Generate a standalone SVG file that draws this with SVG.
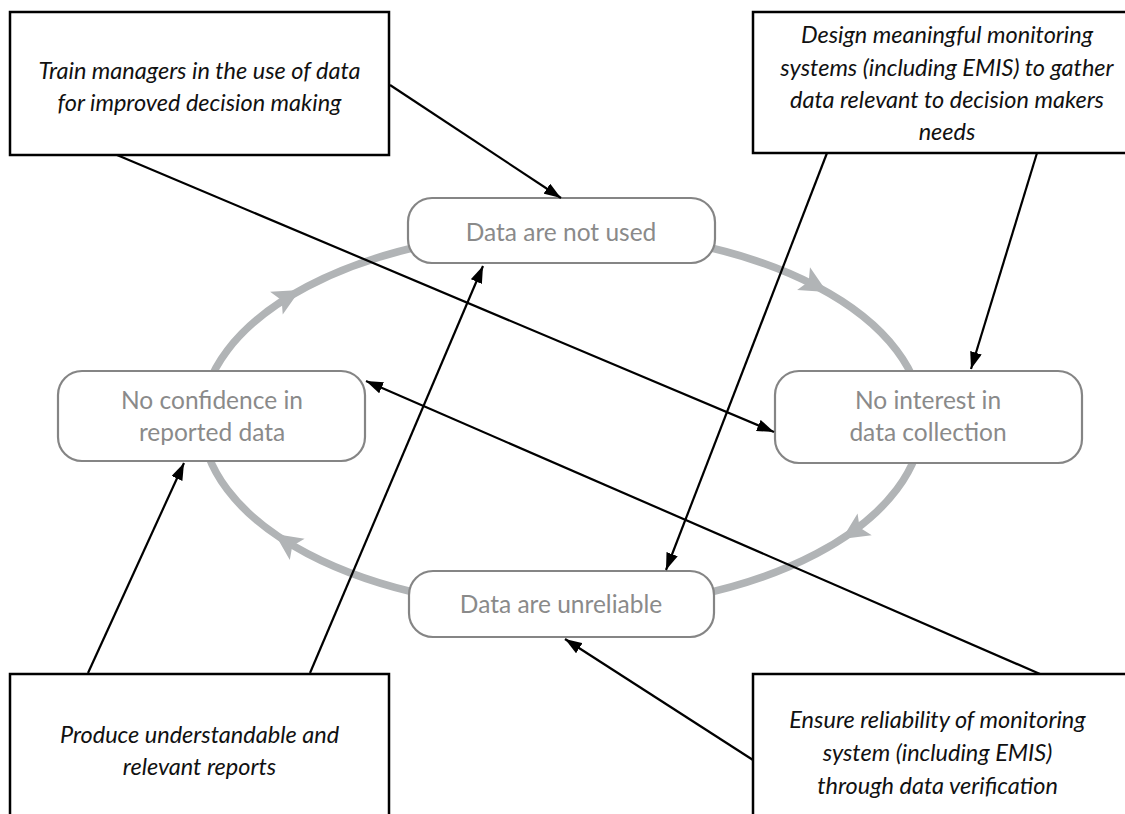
<svg xmlns="http://www.w3.org/2000/svg" width="1125" height="814" viewBox="0 0 1125 814">
<style>
.box{fill:#fff;stroke:#000;stroke-width:2.5}
.node{fill:#fff;stroke:#858585;stroke-width:2.2}
.bt{font-family:Lato,"Liberation Sans",sans-serif;font-style:italic;font-size:23.5px;fill:#111;text-anchor:middle}
.nt{font-family:Lato,"Liberation Sans",sans-serif;font-size:24.5px;fill:#8a8a8a;text-anchor:middle}
.cyc{fill:none;stroke:#b1b4b6;stroke-width:7.5}
.ch{fill:#b1b4b6}
.conn{stroke:#000;stroke-width:2.2;fill:none;marker-end:url(#ah)}
</style>
<defs>
<marker id="ah" markerUnits="userSpaceOnUse" markerWidth="18" markerHeight="12" refX="17" refY="6" orient="auto">
<path d="M0,0 L17,6 L0,12 z" fill="#000"/>
</marker>
</defs>
<rect width="1125" height="814" fill="#fff"/>
<g id="cycle">
<ellipse class="cyc" cx="562" cy="420" rx="360" ry="189"/>
<polygon class="ch" points="0,0 -27,-13 -21,0 -27,13" transform="translate(300,290) rotate(-29.1)"/>
<polygon class="ch" points="0,0 -27,-13 -21,0 -27,13" transform="translate(827,292) rotate(29.7)"/>
<polygon class="ch" points="0,0 -27,-13 -21,0 -27,13" transform="translate(842,539) rotate(147)"/>
<polygon class="ch" points="0,0 -27,-13 -21,0 -27,13" transform="translate(275,534) rotate(214.7)"/>
</g>
<g id="node-not-used">
<rect class="node" x="408" y="198" width="307" height="65" rx="24"/>
<text class="nt" x="561" y="241">Data are not used</text>
</g>
<g id="node-no-confidence">
<rect class="node" x="58" y="371" width="307" height="90" rx="24"/>
<text class="nt" x="212" y="409">No confidence in</text>
<text class="nt" x="212" y="441">reported data</text>
</g>
<g id="node-no-interest">
<rect class="node" x="775" y="371" width="307" height="92" rx="24"/>
<text class="nt" x="928" y="409">No interest in</text>
<text class="nt" x="928" y="441">data collection</text>
</g>
<g id="node-unreliable">
<rect class="node" x="409" y="571" width="305" height="66" rx="24"/>
<text class="nt" x="561" y="613">Data are unreliable</text>
</g>
<g id="box-train">
<rect class="box" x="10" y="12" width="379" height="143"/>
<text class="bt" x="199.5" y="79">Train managers in the use of data</text>
<text class="bt" x="199.5" y="111">for improved decision making</text>
</g>
<g id="box-design">
<rect class="box" x="753" y="12" width="390" height="141"/>
<text class="bt" x="947" y="43">Design meaningful monitoring</text>
<text class="bt" x="947" y="76">systems (including EMIS) to gather</text>
<text class="bt" x="947" y="108">data relevant to decision makers</text>
<text class="bt" x="947" y="140">needs</text>
</g>
<g id="box-produce">
<rect class="box" x="10" y="674" width="379" height="160"/>
<text class="bt" x="199.5" y="743">Produce understandable and</text>
<text class="bt" x="199.5" y="775">relevant reports</text>
</g>
<g id="box-ensure">
<rect class="box" x="753" y="674" width="390" height="160"/>
<text class="bt" x="937.5" y="728">Ensure reliability of monitoring</text>
<text class="bt" x="937.5" y="761">system (including EMIS)</text>
<text class="bt" x="937.5" y="794">through data verification</text>
</g>
<g id="connectors">
<line class="conn" x1="390" y1="85" x2="561" y2="198"/>
<line class="conn" x1="117" y1="155" x2="774" y2="432"/>
<line class="conn" x1="827" y1="153" x2="666" y2="570"/>
<line class="conn" x1="1037" y1="153" x2="971" y2="369"/>
<line class="conn" x1="88" y1="673" x2="184" y2="463"/>
<line class="conn" x1="310" y1="673" x2="483" y2="266"/>
<line class="conn" x1="1040" y1="674" x2="366" y2="381"/>
<line class="conn" x1="753" y1="760" x2="565" y2="639"/>
</g>
</svg>
